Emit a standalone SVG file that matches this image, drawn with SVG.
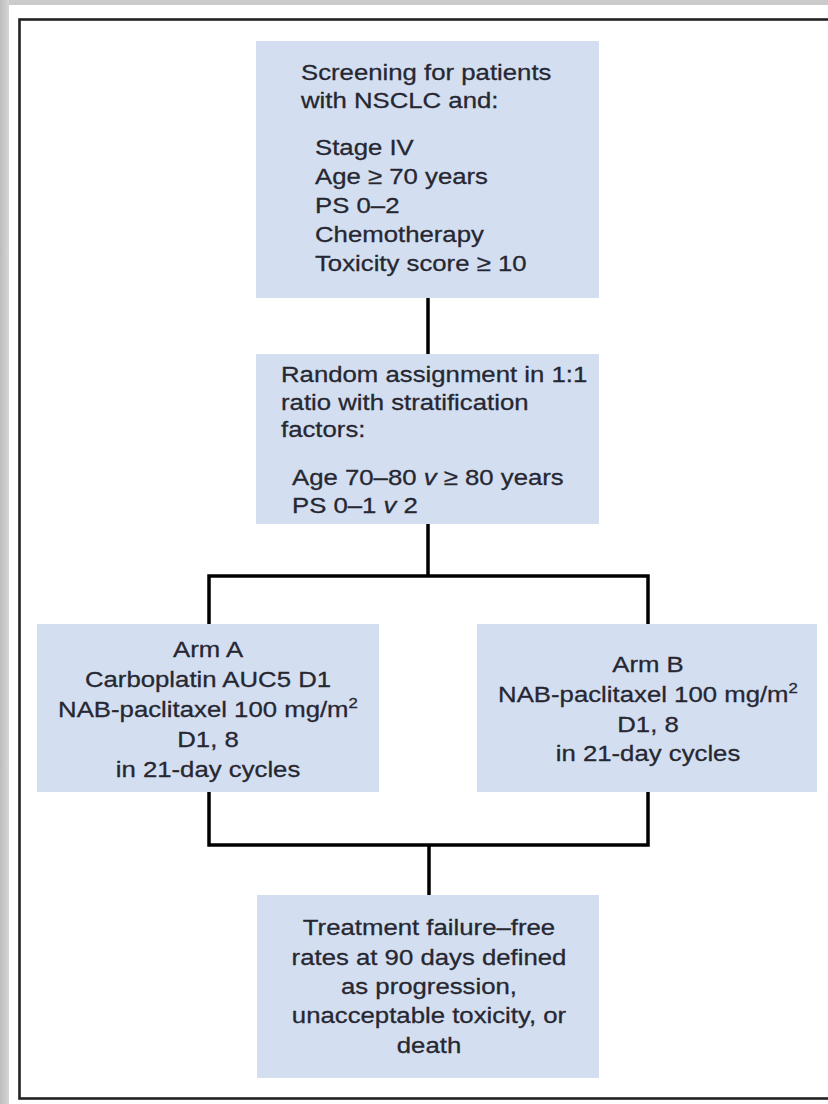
<svg xmlns="http://www.w3.org/2000/svg" width="828" height="1104" viewBox="0 0 828 1104">
  <defs>
    <linearGradient id="edgeShade" x1="0" y1="0" x2="1" y2="0">
      <stop offset="0" stop-color="#bdbdbd"/>
      <stop offset="1" stop-color="#d6d6d6"/>
    </linearGradient>
  </defs>
  <style>
    .box { fill: #d3dff1; }
    .lbl { font-family: "Liberation Sans", Arial, sans-serif; font-size: 23px; fill: #272731; stroke: #272731; stroke-width: 0.3; }
    .mid { text-anchor: middle; }
    .conn { fill: none; stroke: #000; stroke-width: 3.5; stroke-linejoin: miter; stroke-linecap: butt; }
    .sup { font-size: 15px; }
  </style>

  <!-- page background and outer frame -->
  <rect x="0" y="0" width="828" height="1104" fill="#ffffff"/>
  <rect x="0" y="0" width="828" height="5" fill="#cbcbcb"/>
  <rect x="0" y="0" width="9" height="1104" fill="url(#edgeShade)"/>
  <rect x="19.5" y="19.5" width="830" height="1079" fill="none" stroke="#222" stroke-width="2.6"/>

  <!-- connectors -->
  <g id="connectors">
    <path class="conn" d="M428 298 V354"/>
    <path class="conn" d="M428 524 V576 M209 624 V576 H648 V624"/>
    <path class="conn" d="M209 792 V845 H648 V792 M429 845 V895"/>
  </g>

  <!-- screening -->
  <g id="screening">
    <rect class="box" x="256" y="41" width="343" height="257"/>
    <g transform="translate(301 0) scale(1.12 1)">
      <text class="lbl" x="0" y="80">Screening for patients</text>
      <text class="lbl" x="0" y="108">with NSCLC and:</text>
      <text class="lbl" x="12.5" y="155">Stage IV</text>
      <text class="lbl" x="12.5" y="184">Age ≥ 70 years</text>
      <text class="lbl" x="12.5" y="213">PS 0–2</text>
      <text class="lbl" x="12.5" y="242">Chemotherapy</text>
      <text class="lbl" x="12.5" y="271">Toxicity score ≥ 10</text>
    </g>
  </g>

  <!-- randomisation -->
  <g id="randomization">
    <rect class="box" x="256" y="354" width="343" height="170"/>
    <g transform="translate(281 0) scale(1.12 1)">
      <text class="lbl" x="0" y="382">Random assignment in 1:1</text>
      <text class="lbl" x="0" y="410">ratio with stratification</text>
      <text class="lbl" x="0" y="437">factors:</text>
      <text class="lbl" x="9.8" y="485">Age 70–80 <tspan font-style="italic">v</tspan> ≥ 80 years</text>
      <text class="lbl" x="9.8" y="513">PS 0–1 <tspan font-style="italic">v</tspan> 2</text>
    </g>
  </g>

  <!-- arm A -->
  <g id="arm-a">
    <rect class="box" x="37" y="624" width="342" height="168"/>
    <g transform="translate(208 0) scale(1.12 1)">
      <text class="lbl mid" x="0" y="657">Arm A</text>
      <text class="lbl mid" x="0" y="687">Carboplatin AUC5 D1</text>
      <text class="lbl mid" x="0" y="717">NAB-paclitaxel 100 mg/m<tspan class="sup" dy="-9">2</tspan></text>
      <text class="lbl mid" x="0" y="747">D1, 8</text>
      <text class="lbl mid" x="0" y="777">in 21-day cycles</text>
    </g>
  </g>

  <!-- arm B -->
  <g id="arm-b">
    <rect class="box" x="477" y="624" width="340" height="168"/>
    <g transform="translate(648 0) scale(1.12 1)">
      <text class="lbl mid" x="0" y="672">Arm B</text>
      <text class="lbl mid" x="0" y="702">NAB-paclitaxel 100 mg/m<tspan class="sup" dy="-9">2</tspan></text>
      <text class="lbl mid" x="0" y="732">D1, 8</text>
      <text class="lbl mid" x="0" y="761">in 21-day cycles</text>
    </g>
  </g>

  <!-- end point -->
  <g id="endpoint">
    <rect class="box" x="257" y="895" width="342" height="183"/>
    <g transform="translate(429 0) scale(1.12 1)">
      <text class="lbl mid" x="0" y="935">Treatment failure–free</text>
      <text class="lbl mid" x="0" y="965">rates at 90 days defined</text>
      <text class="lbl mid" x="0" y="994">as progression,</text>
      <text class="lbl mid" x="0" y="1023">unacceptable toxicity, or</text>
      <text class="lbl mid" x="0" y="1053">death</text>
    </g>
  </g>
</svg>
